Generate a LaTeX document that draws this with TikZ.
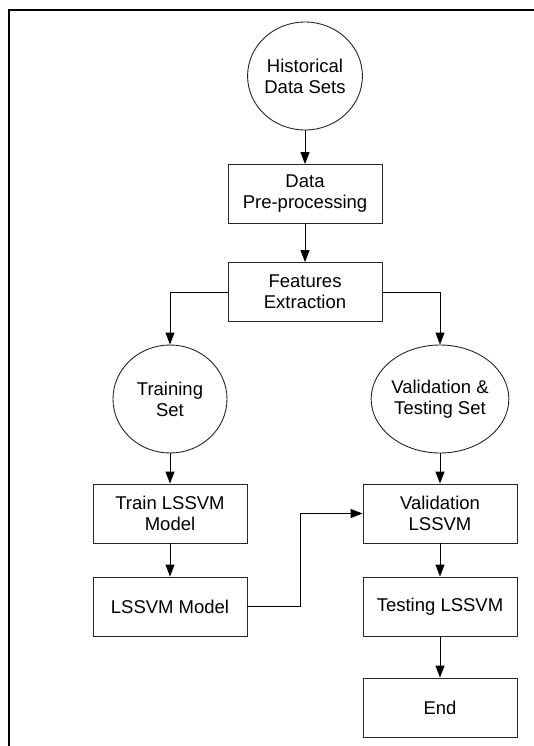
\documentclass[tikz,border=0pt]{standalone}
\usepackage{fontspec}
\setmainfont{Liberation Sans}
\usetikzlibrary{arrows.meta,shapes.geometric}

\begin{document}
\begin{tikzpicture}[x=1pt,y=-1pt,line width=0.9pt,>={Triangle[length=12pt,width=9pt]}]
    \tikzstyle{block}=[rectangle,draw=black!85,fill=white,minimum width=154pt,minimum height=59pt,inner sep=0pt,align=center,font=\fontsize{18.5}{21}\selectfont]
    \tikzstyle{dataset}=[ellipse,draw=black!85,fill=white,minimum width=114pt,minimum height=108pt,inner sep=0pt,align=center,font=\fontsize{18.5}{21}\selectfont]
    \useasboundingbox (0,0) rectangle (534,746);

    % frame
    \draw[line width=2pt] (534,10) -- (9,10) -- (9,746);

    \node[dataset] (hist) at (305,76) {Historical\\Data Sets};
    \node[block] (prep) at (305,194) {Data\\Pre-processing};
    \node[block] (feat) at (305,292) {Features\\Extraction};

    \node[dataset] (train) at (170,399) {Training\\Set};
    \node[dataset] (valset) at (440,399) {Validation \&\\Testing Set};

    \node[block] (trainm) at (170,513.5) {Train LSSVM\\Model};
    \node[block] (model) at (170,606.5) {LSSVM Model};
    \node[block] (valm) at (440,513.5) {Validation\\LSSVM};
    \node[block] (test) at (440,606.5) {Testing LSSVM};
    \node[block] (end) at (440,707.5) {End};

    \foreach \from/\to in {hist/prep, prep/feat, train/trainm, trainm/model, valset/valm, valm/test, test/end}
        \draw[->] (\from) -- (\to);

    \draw[->] (feat.west) -| (train);
    \draw[->] (feat.east) -| (valset);

    \coordinate (bend) at (300,606.5);
    \draw[->] (model.east) -- (bend) |- (valm.west);
\end{tikzpicture}
\end{document}
